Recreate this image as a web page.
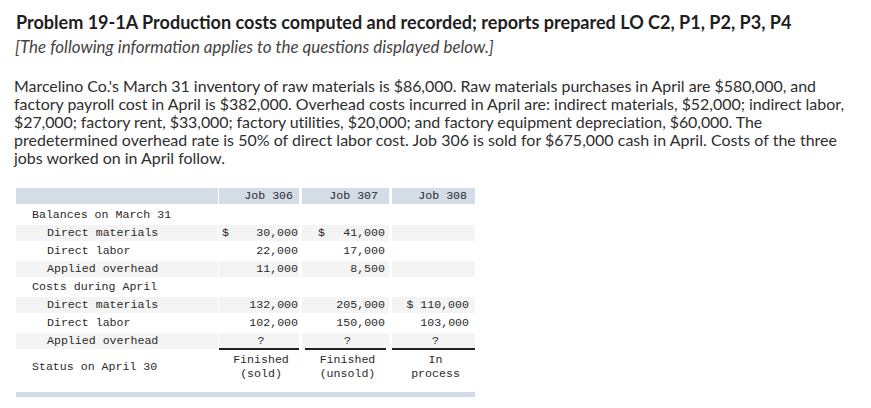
<!DOCTYPE html>
<html>
<head>
<meta charset="utf-8">
<script src="https://cdn.jsdelivr.net/npm/chart.js@4.4.1/dist/chart.umd.min.js"></script>
<style>
  html, body { margin:0; padding:0; background:#fff; }
  body { width:871px; height:408px; position:relative; overflow:hidden; color:#333; }
  .t { position:absolute; white-space:pre; line-height:18px; font-family:"Lato", "Open Sans", sans-serif; }
  .title { font-weight:bold; font-size:16px; color:#1e1e1e; }
  .ital { font-style:italic; font-size:14.5px; color:#444; }
  .para { font-size:14.5px; color:#2e2e2e; }
  .cell { position:absolute; font-family:"Liberation Mono", "DejaVu Sans Mono", monospace; font-size:11.6px; color:#2a2a2a; white-space:pre; line-height:18px; }
  .bg { position:absolute; }
</style>
</head>
<body>
<script>
// ---------- data ----------
const titleText = "Problem 19-1A Production costs computed and recorded; reports prepared LO C2, P1, P2, P3, P4";
const introText = "[The following information applies to the questions displayed below.]";
const paragraphLines = [
  "Marcelino Co.'s March 31 inventory of raw materials is $86,000. Raw materials purchases in April are $580,000, and",
  "factory payroll cost in April is $382,000. Overhead costs incurred in April are: indirect materials, $52,000; indirect labor,",
  "$27,000; factory rent, $33,000; factory utilities, $20,000; and factory equipment depreciation, $60,000. The",
  "predetermined overhead rate is 50% of direct labor cost. Job 306 is sold for $675,000 cash in April. Costs of the three",
  "jobs worked on in April follow."
];
const jobs = ["Job 306", "Job 307", "Job 308"];
const rowLabels = ["Balances on March 31", "Direct materials", "Direct labor", "Applied overhead",
                   "Costs during April", "Direct materials", "Direct labor", "Applied overhead"];
const marchDirectMaterials = [30000, 41000, null];
const marchDirectLabor     = [22000, 17000, null];
const marchOverhead        = [11000, 8500, null];
const aprilDirectMaterials = [132000, 205000, 110000];
const aprilDirectLabor     = [102000, 150000, 103000];
const aprilOverhead        = ["?", "?", "?"];
const statusLabel = "Status on April 30";
const statusLines = [["Finished", "(sold)"], ["Finished", "(unsold)"], ["In", "process"]];

// ---------- layout ----------
function makeText(cls, txt, left, cy) {
  const d = document.createElement('div');
  d.className = 't ' + cls;
  d.textContent = txt;
  d.style.left = left + 'px';
  d.style.top = (cy - 9) + 'px';
  document.body.appendChild(d);
  return d;
}
function fitSize(d, width) {
  const fs = parseFloat(getComputedStyle(d).fontSize);
  const w = d.getBoundingClientRect().width;
  d.style.fontSize = (fs * width / w) + 'px';
}
function fitSpacing(d, width) {
  const w = d.getBoundingClientRect().width;
  d.style.letterSpacing = ((width - w) / d.textContent.length) + 'px';
}
fitSize(makeText('title', titleText, 16, 22), 776);
fitSize(makeText('ital', introText, 15, 47), 479);
const paraWidths = [802, 830, 749, 823, 208];
const paraDivs = paragraphLines.map((l, i) => makeText('para', l, 14, 86 + 18 * i));
// common font size from the longest full lines
let ratio = 0;
[0, 1, 3].forEach(i => { ratio += paraWidths[i] / paraDivs[i].getBoundingClientRect().width; });
ratio /= 3;
paraDivs.forEach(d => { d.style.fontSize = (14.5 * ratio) + 'px'; });
paraDivs.forEach((d, i) => { if (i < 4) fitSpacing(d, paraWidths[i]); });

function box(x, y, w, h, color) {
  const d = document.createElement('div');
  d.className = 'bg';
  Object.assign(d.style, { left: x + 'px', top: y + 'px', width: w + 'px', height: h + 'px', background: color });
  document.body.appendChild(d);
}
function cell(txt, x, cy, align) {
  const d = document.createElement('div');
  d.className = 'cell';
  d.textContent = txt;
  d.style.top = (cy - 9) + 'px';
  if (align === 'right') { d.style.right = (871 - x) + 'px'; }
  else if (align === 'center') { d.style.left = (x - 60) + 'px'; d.style.width = '120px'; d.style.textAlign = 'center'; }
  else d.style.left = x + 'px';
  document.body.appendChild(d);
}

const cols = [[16, 218], [219, 299], [302, 389], [392, 475]]; // [left,right]
const headBlue = '#d4dce7';
const shade = '#f4f4f4';
cols.forEach(c => box(c[0], 188, c[1] - c[0], 16, headBlue));
const headRight = [293, 378, 467];
jobs.forEach((j, i) => cell(j, headRight[i], 196, 'right'));

const rowTop = 206, rh = 18;
const indent = [false, true, true, true, false, true, true, true];
const shaded = [false, true, false, true, false, true, false, true];
rowLabels.forEach((lab, r) => {
  const top = rowTop + r * rh;
  if (shaded[r]) cols.forEach(c => box(c[0], top + 1, c[1] - c[0], rh - 2, shade));
  cell(lab, indent[r] ? 47 : 32, top + 9, 'left');
});

const fmt = v => v.toLocaleString('en-US');
const valRight = [298, 385, 469];
const dollarX = [222, 318, 394];
const rowsData = [null, marchDirectMaterials, marchDirectLabor, marchOverhead, null,
                  aprilDirectMaterials, aprilDirectLabor, aprilOverhead];
rowsData.forEach((arr, r) => {
  if (!arr) return;
  const cy = rowTop + r * rh + 9;
  arr.forEach((v, j) => {
    if (v === null) return;
    if (v === "?") { cell("?", (cols[j+1][0] + cols[j+1][1]) / 2 + 2, cy, 'center'); return; }
    const firstInCol = rowsData.findIndex(a => a && a[j] !== null && a[j] !== "?");
    if (firstInCol === r) {
      if (j === 2) cell("$ " + fmt(v), valRight[j], cy, 'right');
      else { cell("$", dollarX[j], cy, 'left'); cell(fmt(v), valRight[j], cy, 'right'); }
    } else cell(fmt(v), valRight[j], cy, 'right');
  });
});
[[219, 299], [305, 386], [392, 475]].forEach(c => box(c[0], 348, c[1] - c[0], 1.5, '#222'));
cell(statusLabel, 32, 367, 'left');
statusLines.forEach((ls, j) => {
  const cx = (cols[j+1][0] + cols[j+1][1]) / 2 + 2;
  cell(ls[0], cx, 360, 'center');
  cell(ls[1], cx, 374, 'center');
});
box(16, 392, 459, 5, headBlue);
</script>
</body>
</html>
